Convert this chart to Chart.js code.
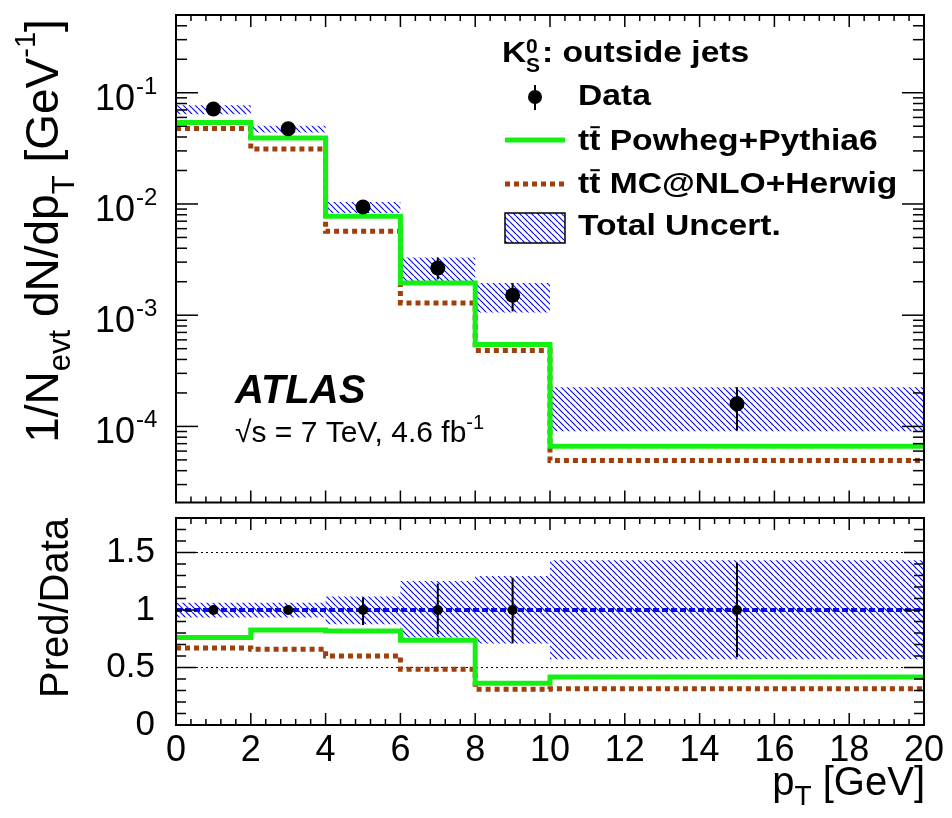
<!DOCTYPE html>
<html>
<head>
<meta charset="utf-8">
<script src="https://cdn.jsdelivr.net/npm/chart.js@4.4.0/dist/chart.umd.min.js"></script>
<style>
  html, body { margin: 0; padding: 0; background: #fff; }
  #wrap { position: relative; width: 952px; height: 818px; }
  #top { position: absolute; left: 0; top: 0; }
  #bot { position: absolute; left: 0; top: 510px; }
</style>
</head>
<body>
<div id="wrap">
  <canvas id="top" width="952" height="510"></canvas>
  <canvas id="bot" width="952" height="308"></canvas>
</div>
<script>
// bins in pT [GeV]
const binEdges = [0, 2, 4, 6, 8, 10, 20];
const binCenters = [1, 3, 5, 7, 9, 15];

// upper panel: 1/Nevt dN/dpT
const dataY   = [0.0714, 0.0475, 0.0094, 0.00266, 0.00151, 0.00016];
const dataLo  = [0.0670, 0.0445, 0.0086, 0.00210, 0.00108, 0.000092];
const dataHi  = [0.0760, 0.0505, 0.0103, 0.00330, 0.00195, 0.000225];
const uncLo   = [0.0640, 0.0440, 0.0083, 0.00202, 0.00106, 0.0000906];
const uncHi   = [0.0770, 0.0504, 0.0104, 0.00331, 0.00195, 0.000225];
const powheg  = [0.0540, 0.0392, 0.00774, 0.00195, 0.000545, 0.0000665];
const herwig  = [0.0478, 0.0312, 0.00568, 0.00129, 0.000481, 0.0000494];

// lower panel: Pred/Data
const ratioPowheg = [0.760, 0.826, 0.817, 0.736, 0.363, 0.417];
const ratioHerwig = [0.670, 0.658, 0.600, 0.484, 0.310, 0.316];
const ratioUncLo  = [0.934, 0.934, 0.876, 0.760, 0.708, 0.571];
const ratioUncHi  = [1.064, 1.064, 1.117, 1.252, 1.296, 1.432];
const ratioData   = [1, 1, 1, 1, 1, 1];
const ratioErrLo  = [0.99, 0.99, 0.87, 0.79, 0.71, 0.59];
const ratioErrHi  = [1.01, 1.01, 1.11, 1.23, 1.28, 1.41];

// tick labels
const xTickStep = 2;
const logDecades = [-1, -2, -3, -4];
const ratioTickStep = 0.5;

const FONT = '"Liberation Sans", Arial, Helvetica, sans-serif';
const GREEN = 'rgb(20,240,20)';
const BROWN = 'rgb(160,62,12)';
const BLUE = 'rgb(10,10,235)';

Chart.defaults.font.family = FONT;
Chart.defaults.color = '#000';

// histogram steps
function steps(vals) {
  const pts = vals.map((v, i) => ({ x: binEdges[i], y: v }));
  pts.push({ x: binEdges[binEdges.length - 1], y: vals[vals.length - 1] });
  return pts;
}

// blue "\\\" hatch
function hatch() {
  const n = 6;
  const c = document.createElement('canvas');
  c.width = n; c.height = n;
  const g = c.getContext('2d');
  g.strokeStyle = BLUE;
  g.lineWidth = 1.2;
  g.beginPath();
  for (let k = -1; k <= 1; k++) { g.moveTo(k * n, 0); g.lineTo(k * n + n, n); }
  g.stroke();
  return g.createPattern(c, 'repeat');
}
const pat = hatch();

// draw a run of text pieces [{t, size, style, dy, bar}]
function rich(ctx, parts, x, y, align, sx) {
  sx = sx || 1;
  let w = 0;
  parts.forEach(p => {
    ctx.font = (p.style || '') + ' ' + p.size + 'px ' + FONT;
    p.w = ctx.measureText(p.t).width;
    w += p.w;
  });
  ctx.save();
  ctx.translate(x, y);
  ctx.scale(sx, 1);
  let cx = align === 'center' ? -w / 2 : align === 'right' ? -w : 0;
  ctx.textAlign = 'left';
  ctx.textBaseline = 'alphabetic';
  ctx.fillStyle = '#000';
  ctx.strokeStyle = '#000';
  parts.forEach(p => {
    ctx.font = (p.style || '') + ' ' + p.size + 'px ' + FONT;
    ctx.fillText(p.t, cx, p.dy || 0);
    if (p.bar) {
      ctx.lineWidth = 2;
      ctx.beginPath();
      ctx.moveTo(cx + p.w * 0.1, -p.size * 0.76);
      ctx.lineTo(cx + p.w * 0.95, -p.size * 0.76);
      ctx.stroke();
    }
    cx += p.w;
  });
  ctx.restore();
}

// ROOT-like frame with inward ticks on all four sides
const rootFrame = {
  id: 'rootFrame',
  afterDraw(chart, args, o) {
    const { ctx, chartArea: a, scales } = chart;
    const ln = (x1, y1, x2, y2) => { ctx.beginPath(); ctx.moveTo(x1, y1); ctx.lineTo(x2, y2); ctx.stroke(); };
    ctx.save();
    ctx.strokeStyle = '#000';
    ctx.lineWidth = 1.5;
    for (let i = 0; i <= 50; i++) {
      const v = i * 0.4;
      const px = scales.x.getPixelForValue(v);
      const L = (i % 5 === 0) ? o.xMaj : o.xMin;
      ln(px, a.bottom, px, a.bottom - L);
      ln(px, a.top, px, a.top + L);
    }
    o.yVals.forEach((v, i) => {
      const py = scales.y.getPixelForValue(v);
      if (py < a.top - 0.5 || py > a.bottom + 0.5) return;
      const L = o.yMajor[i] ? o.yMaj : o.yMin;
      ln(a.left, py, a.left + L, py);
      ln(a.right, py, a.right - L, py);
    });
    ctx.lineWidth = 2;
    ctx.strokeRect(a.left, a.top, a.right - a.left, a.bottom - a.top);
    ctx.restore();
  }
};

// vertical error bars on data points
const errBars = {
  id: 'errBars',
  afterDatasetsDraw(chart, args, o) {
    const { ctx, scales } = chart;
    ctx.save();
    ctx.strokeStyle = '#000';
    ctx.lineWidth = 2;
    o.x.forEach((xv, i) => {
      const px = scales.x.getPixelForValue(xv);
      ctx.beginPath();
      ctx.moveTo(px, scales.y.getPixelForValue(o.lo[i]));
      ctx.lineTo(px, scales.y.getPixelForValue(o.hi[i]));
      ctx.stroke();
    });
    ctx.restore();
  }
};

// texts of the upper pad
const topTexts = {
  id: 'topTexts',
  afterDraw(chart) {
    const { ctx, scales } = chart;
    // y tick labels 10^k
    logDecades.forEach(k => {
      const py = scales.y.getPixelForValue(Math.pow(10, k));
      rich(ctx, [{ t: '10', size: 36 }], 135, py + 17, 'right');
      rich(ctx, [{ t: String(k), size: 24 }], 136, py + 1, 'left');
    });
    // y title
    ctx.save();
    ctx.translate(58, 231);
    ctx.rotate(-Math.PI / 2);
    rich(ctx, [
      { t: '1/N', size: 46 }, { t: 'evt', size: 31, dy: 12 },
      { t: ' dN/dp', size: 46 }, { t: 'T', size: 31, dy: 16 },
      { t: ' [GeV', size: 46 }, { t: '-1', size: 29, dy: -23 }, { t: ']', size: 46 }
    ], 0, 0, 'center');
    ctx.restore();
    // ATLAS label
    rich(ctx, [{ t: 'ATLAS', size: 40, style: 'italic bold' }], 235, 403, 'left');
    rich(ctx, [{ t: '\u221As = 7 TeV, 4.6 fb', size: 30 }, { t: '-1', size: 20, dy: -13 }], 235, 442, 'left');
    // legend
    const B = 'bold', S = 1.12;
    rich(ctx, [{ t: 'K', size: 30, style: B }], 502, 62, 'left', S);
    rich(ctx, [{ t: '0', size: 21, style: B }], 526, 53, 'left');
    rich(ctx, [{ t: 'S', size: 21, style: B }], 526, 72, 'left');
    rich(ctx, [{ t: ': outside jets', size: 30, style: B }], 542, 62, 'left', S);

    ctx.save();
    ctx.fillStyle = '#000';
    ctx.beginPath(); ctx.arc(535, 97, 7, 0, Math.PI * 2); ctx.fill();
    ctx.strokeStyle = '#000'; ctx.lineWidth = 2;
    ctx.beginPath(); ctx.moveTo(535, 85); ctx.lineTo(535, 110); ctx.stroke();

    ctx.strokeStyle = GREEN; ctx.lineWidth = 5;
    ctx.beginPath(); ctx.moveTo(505, 140); ctx.lineTo(565, 140); ctx.stroke();

    ctx.strokeStyle = BROWN; ctx.setLineDash([5, 4]);
    ctx.beginPath(); ctx.moveTo(505, 184); ctx.lineTo(565, 184); ctx.stroke();
    ctx.setLineDash([]);

    ctx.fillStyle = pat;
    ctx.fillRect(505, 213, 60, 30);
    ctx.strokeStyle = '#000'; ctx.lineWidth = 1.5;
    ctx.strokeRect(505, 213, 60, 30);
    ctx.restore();

    rich(ctx, [{ t: 'Data', size: 30, style: B }], 578, 105, 'left', S);
    rich(ctx, [{ t: 't', size: 30, style: B }, { t: 't', size: 30, style: B, bar: true },
      { t: ' Powheg+Pythia6', size: 30, style: B }], 578, 150, 'left', S);
    rich(ctx, [{ t: 't', size: 30, style: B }, { t: 't', size: 30, style: B, bar: true },
      { t: ' MC@NLO+Herwig', size: 30, style: B }], 578, 193, 'left', S);
    rich(ctx, [{ t: 'Total Uncert.', size: 30, style: B }], 578, 235, 'left', S);
  }
};

const botTexts = {
  id: 'botTexts',
  afterDraw(chart) {
    const { ctx } = chart;
    ctx.save();
    ctx.translate(68, 98);
    ctx.rotate(-Math.PI / 2);
    rich(ctx, [{ t: 'Pred/Data', size: 40 }], 0, 0, 'center');
    ctx.restore();
    rich(ctx, [{ t: 'p', size: 40 }, { t: 'T', size: 28, dy: 10 }, { t: ' [GeV]', size: 40 }], 925, 285, 'right');
  }
};

// minor/major tick positions for the frames
const logVals = [], logMajor = [];
for (let k = -5; k <= 0; k++) for (let m = 1; m <= 9; m++) { logVals.push(m * Math.pow(10, k)); logMajor.push(m === 1); }
const linVals = [], linMajor = [];
for (let i = 0; i <= 18; i++) { linVals.push(i / 10); linMajor.push(i % 5 === 0); }

function bandSets(lo, hi) {
  return [
    { data: steps(hi), stepped: 'before', borderWidth: 0, borderColor: 'transparent', pointRadius: 0, fill: '+1', backgroundColor: pat, order: 5 },
    { data: steps(lo), stepped: 'before', borderWidth: 0, borderColor: 'transparent', pointRadius: 0, fill: false, order: 5 }
  ];
}
function stepLine(vals, color, dash, order) {
  return { data: steps(vals), stepped: 'before', borderColor: color, borderWidth: 5, borderDash: dash, pointRadius: 0, fill: false, order: order };
}
function points(vals, r) {
  return { data: binCenters.map((x, i) => ({ x: x, y: vals[i] })), showLine: false, pointRadius: r, pointBackgroundColor: '#000', pointBorderColor: '#000', pointBorderWidth: 0, order: 0 };
}
function noPad(s) { s.paddingTop = 0; s.paddingBottom = 0; s.paddingLeft = 0; s.paddingRight = 0; }

new Chart(document.getElementById('top'), {
  type: 'line',
  data: {
    datasets: [
      ...bandSets(uncLo, uncHi),
      stepLine(herwig, BROWN, [5, 4], 3),
      stepLine(powheg, GREEN, [], 2),
      points(dataY, 7.5)
    ]
  },
  options: {
    responsive: false,
    animation: false,
    layout: { padding: { left: 0, right: 28, top: 15, bottom: 0 } },
    plugins: {
      legend: { display: false },
      tooltip: { enabled: false },
      rootFrame: { xMaj: 12, xMin: 6, yMaj: 22, yMin: 11, yVals: logVals, yMajor: logMajor },
      errBars: { x: binCenters, lo: dataLo, hi: dataHi }
    },
    scales: {
      x: { type: 'linear', min: 0, max: 20, grid: { display: false, drawTicks: false }, border: { display: false }, ticks: { display: false }, afterFit(s) { s.height = 7; noPad(s); } },
      y: { type: 'logarithmic', min: 2.07e-5, max: 0.5, grid: { display: false, drawTicks: false }, border: { display: false }, ticks: { display: false }, afterFit(s) { s.width = 176; noPad(s); } }
    }
  },
  plugins: [rootFrame, errBars, topTexts]
});

new Chart(document.getElementById('bot'), {
  type: 'line',
  data: {
    datasets: [
      ...bandSets(ratioUncLo, ratioUncHi),
      stepLine(ratioHerwig, BROWN, [5, 4], 3),
      stepLine(ratioPowheg, GREEN, [], 2),
      { data: steps(ratioData), stepped: 'before', borderColor: BLUE, borderWidth: 4, borderDash: [6, 3], pointRadius: 0, fill: false, order: 1 },
      points(ratioData, 5)
    ]
  },
  options: {
    responsive: false,
    animation: false,
    layout: { padding: { left: 0, right: 28, top: 8, bottom: 0 } },
    plugins: {
      legend: { display: false },
      tooltip: { enabled: false },
      rootFrame: { xMaj: 12, xMin: 6, yMaj: 20, yMin: 10, yVals: linVals, yMajor: linMajor },
      errBars: { x: binCenters, lo: ratioErrLo, hi: ratioErrHi }
    },
    scales: {
      x: {
        type: 'linear', min: 0, max: 20,
        grid: { display: false, drawTicks: false }, border: { display: false },
        ticks: { stepSize: xTickStep, autoSkip: false, maxRotation: 0, padding: 4, font: { size: 36 }, color: '#000' },
        afterFit(s) { s.height = 93; noPad(s); }
      },
      y: {
        type: 'linear', min: 0, max: 1.8,
        grid: {
          drawTicks: false, lineWidth: 1,
          color: c => (Math.abs(c.tick.value - 0.5) < 1e-6 || Math.abs(c.tick.value - 1.5) < 1e-6) ? '#000' : 'transparent'
        },
        border: { display: false, dash: [2, 3] },
        ticks: { stepSize: ratioTickStep, includeBounds: false, padding: 21, font: { size: 35 }, color: '#000', callback: v => String(+v.toFixed(2)) },
        afterFit(s) { s.width = 176; noPad(s); }
      }
    }
  },
  plugins: [rootFrame, errBars, botTexts]
});
</script>
</body>
</html>
